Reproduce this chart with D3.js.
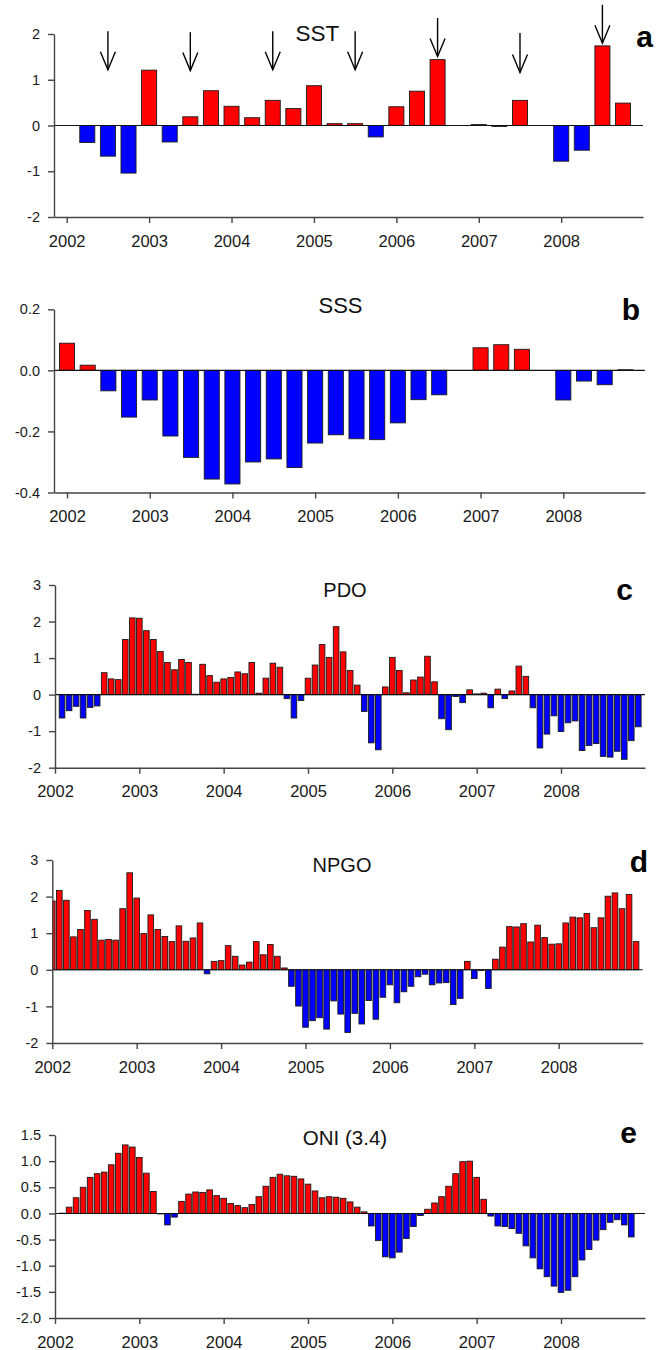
<!DOCTYPE html>
<html>
<head>
<meta charset="utf-8">
<script src="https://cdn.jsdelivr.net/npm/d3@7"></script>
<style>
body { margin: 0; background: #fff; }
svg { display: block; font-family: "Liberation Sans", Arial, sans-serif; }
</style>
</head>
<body>
<svg id="chart" width="656" height="1350"></svg>
<script>
// year ticks shared by all panels
var years = [2002, 2003, 2004, 2005, 2006, 2007, 2008];

// a - SST, quarterly from 2002.0 (null = no bar)
var sstValues = [null, -0.37, -0.67, -1.04, 1.21, -0.36, 0.19, 0.76, 0.42, 0.17, 0.55, 0.37, 0.87, 0.04,
	0.04, -0.25, 0.41, 0.75, 1.44, null, 0.02, -0.02, 0.55, null, -0.78, -0.54, 1.74, 0.49];
var arrowYears = [2002.5, 2003.5, 2004.5, 2005.5, 2006.5, 2007.5, 2008.5];
var arrowTops = [2.06, 2.04, 2.06, 2.06, 2.35, 2.02, 2.64];
var arrowTips = [1.22, 1.2, 1.22, 1.22, 1.51, 1.16, 1.8];

// b - SSS, quarterly from 2002.0
var sssValues = [0.089, 0.017, -0.067, -0.153, -0.097, -0.215, -0.285, -0.356, -0.372, -0.30, -0.29, -0.318,
	-0.238, -0.211, -0.224, -0.227, -0.172, -0.096, -0.08, null, 0.074, 0.084, 0.069, null, -0.097, -0.035, -0.047, 0.002];

// c - PDO, monthly from 2002 + 1/12
var pdoValues = [-0.64, -0.44, -0.32, -0.64, -0.35, -0.31, 0.6, 0.43, 0.41, 1.51, 2.1, 2.09,
	1.75, 1.51, 1.18, 0.88, 0.68, 0.96, 0.88, 0.01, 0.83, 0.52, 0.34, 0.43,
	0.47, 0.62, 0.57, 0.88, 0.04, 0.45, 0.86, 0.75, -0.11, -0.64, -0.16, 0.45,
	0.81, 1.37, 1.02, 1.86, 1.17, 0.66, 0.26, -0.46, -1.32, -1.51, 0.21, 1.02,
	0.66, 0.05, 0.4, 0.48, 1.05, 0.35, -0.66, -0.96, -0.05, -0.22, 0.13, 0.02,
	0.04, -0.36, 0.15, -0.11, 0.1, 0.78, 0.5, -0.36, -1.46, -1.08, -0.58, -1.01,
	-0.77, -0.72, -1.53, -1.39, -1.34, -1.69, -1.71, -1.55, -1.77, -1.26, -0.88];

// d - NPGO, monthly from 2002.0
var npgoValues = [1.88, 2.17, 1.9, 0.9, 1.1, 1.62, 1.38, 0.81, 0.83, 0.81, 1.67, 2.65,
	1.96, 0.99, 1.5, 1.1, 0.91, 0.77, 1.2, 0.78, 0.87, 1.28, -0.11, 0.23,
	0.25, 0.66, 0.37, 0.13, 0.21, 0.77, 0.41, 0.69, 0.37, 0.05, -0.45, -0.99,
	-1.57, -1.39, -1.31, -1.62, -0.85, -1.21, -1.71, -1.19, -1.48, -0.84, -1.35, -0.75,
	-0.41, -0.9, -0.6, -0.45, -0.19, -0.12, -0.41, -0.36, -0.35, -0.95, -0.78, 0.23,
	-0.24, -0.02, -0.51, 0.29, 0.62, 1.18, 1.17, 1.26, 0.76, 1.22, 0.88, 0.7,
	0.71, 1.28, 1.44, 1.42, 1.54, 1.15, 1.42, 2.01, 2.1, 1.67, 2.06, 0.77];

// e - ONI (3.4), monthly from 2002 + 1/12
var oniValues = [0.005, 0.12, 0.3, 0.5, 0.69, 0.76, 0.79, 0.93, 1.15, 1.31, 1.27, 1.07,
	0.77, 0.42, -0.01, -0.22, -0.07, 0.23, 0.37, 0.41, 0.4, 0.45, 0.34, 0.29,
	0.19, 0.15, 0.11, 0.17, 0.32, 0.52, 0.69, 0.75, 0.72, 0.71, 0.66, 0.56,
	0.43, 0.3, 0.32, 0.31, 0.29, 0.22, 0.12, 0.03, -0.24, -0.52, -0.83, -0.85,
	-0.74, -0.48, -0.25, -0.04, 0.08, 0.2, 0.32, 0.52, 0.76, 0.99, 1.0, 0.69,
	0.27, -0.05, -0.24, -0.25, -0.29, -0.38, -0.62, -0.85, -1.06, -1.21, -1.39, -1.51,
	-1.47, -1.21, -0.89, -0.69, -0.51, -0.31, -0.17, -0.12, -0.22, -0.45];

var svg = d3.select("#chart");

var intFmt = function(d) { return String(d); };
var decFmt = function(d) { return d.toFixed(1); };

var panels = [
	{id: "a", title: "SST", values: sstValues, start: 2002, step: 0.25, frac: 0.73,
	 x2002: 66.7, x2008: 561.2, left: 54, right: 643, top: 34, bottom: 217,
	 yDomain: [-2, 2], yTicks: [-2, -1, 0, 1, 2], fmt: intFmt,
	 titleX: 317.5, titleY: 41, titleSize: 22.5, labelX: 653, labelY: 47},
	{id: "b", title: "SSS", values: sssValues, start: 2002, step: 0.25, frac: 0.73,
	 x2002: 67, x2008: 563.3, left: 54, right: 645, top: 309.3, bottom: 492.5,
	 yDomain: [-0.4, 0.2], yTicks: [-0.4, -0.2, 0, 0.2], fmt: decFmt,
	 titleX: 340.5, titleY: 312.5, titleSize: 22, labelX: 640, labelY: 320},
	{id: "c", title: "PDO", values: pdoValues, start: 2002 + 1 / 12, step: 1 / 12, frac: 0.8,
	 x2002: 55, x2008: 561, left: 55, right: 645, top: 585, bottom: 767.7,
	 yDomain: [-2, 3], yTicks: [-2, -1, 0, 1, 2, 3], fmt: intFmt,
	 titleX: 345, titleY: 596.5, titleSize: 20, labelX: 633, labelY: 600},
	{id: "d", title: "NPGO", values: npgoValues, start: 2002, step: 1 / 12, frac: 0.8,
	 x2002: 52.3, x2008: 558.7, left: 52.3, right: 642.7, top: 860, bottom: 1043,
	 yDomain: [-2, 3], yTicks: [-2, -1, 0, 1, 2, 3], fmt: intFmt,
	 titleX: 342, titleY: 871.5, titleSize: 20, labelX: 648, labelY: 871.5},
	{id: "e", title: "ONI (3.4)", values: oniValues, start: 2002 + 1 / 12, step: 1 / 12, frac: 0.8,
	 x2002: 55, x2008: 561, left: 55, right: 645, top: 1135, bottom: 1318,
	 yDomain: [-2, 1.5], yTicks: [-2, -1.5, -1, -0.5, 0, 0.5, 1, 1.5], fmt: decFmt,
	 titleX: 345, titleY: 1145, titleSize: 20.5, labelX: 637, labelY: 1143}
];

panels.forEach(drawPanel);

function drawPanel(p) {
	var g = svg.append("g").attr("class", "panel-" + p.id);

	var perYear = (p.x2008 - p.x2002) / 6;
	var x = d3.scaleLinear()
		.domain([2002 - (p.x2002 - p.left) / perYear, 2002 + (p.right - p.x2002) / perYear])
		.range([p.left, p.right]);
	var y = d3.scaleLinear().domain(p.yDomain).range([p.bottom, p.top]);

	var bw = perYear * p.step * p.frac;

	var data = p.values.map(function(v, i) { return {t: p.start + i * p.step, v: v}; })
		.filter(function(d) { return d.v !== null; });

	g.append("clipPath").attr("id", "clip-" + p.id)
		.append("rect")
		.attr("x", p.left).attr("y", 0)
		.attr("width", p.right - p.left).attr("height", 1350);

	g.append("g")
		.attr("clip-path", "url(#clip-" + p.id + ")")
		.selectAll("rect")
		.data(data)
		.enter().append("rect")
			.attr("x", function(d) { return x(d.t) - bw / 2; })
			.attr("y", function(d) { return y(Math.max(d.v, 0)); })
			.attr("width", bw)
			.attr("height", function(d) { return Math.abs(y(d.v) - y(0)); })
			.attr("fill", function(d) { return d.v >= 0 ? "#ff0000" : "#0000ff"; })
			.attr("stroke", "#1a1a1a")
			.attr("stroke-width", 0.9);

	// zero line
	g.append("line")
		.attr("x1", p.left).attr("x2", p.right)
		.attr("y1", y(0)).attr("y2", y(0))
		.attr("stroke", "#111")
		.attr("stroke-width", 1.1);

	var xAxis = g.append("g")
		.attr("transform", "translate(0," + p.bottom + ")")
		.call(d3.axisBottom(x).tickValues(years).tickFormat(d3.format("d"))
			.tickSize(6).tickSizeOuter(0).tickPadding(12));
	xAxis.selectAll("text").attr("font-size", 16.5).attr("fill", "#1a1a1a");

	var yAxis = g.append("g")
		.attr("transform", "translate(" + p.left + ",0)")
		.call(d3.axisLeft(y).tickValues(p.yTicks).tickFormat(p.fmt)
			.tickSize(6).tickSizeOuter(0).tickPadding(8));
	yAxis.selectAll("text").attr("font-size", 14.5).attr("fill", "#1a1a1a");

	g.selectAll(".domain, .tick line").attr("stroke", "#444").attr("stroke-width", 1.4);
	g.selectAll(".tick text").attr("font-family", "'Liberation Sans', Arial, sans-serif");

	g.append("text")
		.attr("x", p.titleX).attr("y", p.titleY)
		.attr("text-anchor", "middle")
		.attr("font-size", p.titleSize)
		.attr("fill", "#111")
		.text(p.title);

	g.append("text")
		.attr("x", p.labelX).attr("y", p.labelY)
		.attr("text-anchor", "end")
		.attr("font-size", 30)
		.attr("font-weight", "bold")
		.attr("fill", "#000")
		.text(p.id);

	if (p.id === "a") drawArrows(g, x, y);
}

function drawArrows(g, x, y) {
	var arrows = arrowYears.map(function(t, i) { return {t: t, top: arrowTops[i], tip: arrowTips[i]}; });
	var a = g.append("g").attr("class", "arrows")
		.attr("fill", "none").attr("stroke", "#000").attr("stroke-width", 1.4);
	a.selectAll("line")
		.data(arrows)
		.enter().append("line")
			.attr("x1", function(d) { return x(d.t); })
			.attr("x2", function(d) { return x(d.t); })
			.attr("y1", function(d) { return y(d.top); })
			.attr("y2", function(d) { return y(d.tip); });
	a.selectAll("path")
		.data(arrows)
		.enter().append("path")
			.attr("d", function(d) {
				var cx = x(d.t), cy = y(d.tip);
				return "M" + (cx - 7.5) + "," + (cy - 18) + "L" + cx + "," + cy + "L" + (cx + 7.5) + "," + (cy - 18);
			});
}
</script>
</body>
</html>
